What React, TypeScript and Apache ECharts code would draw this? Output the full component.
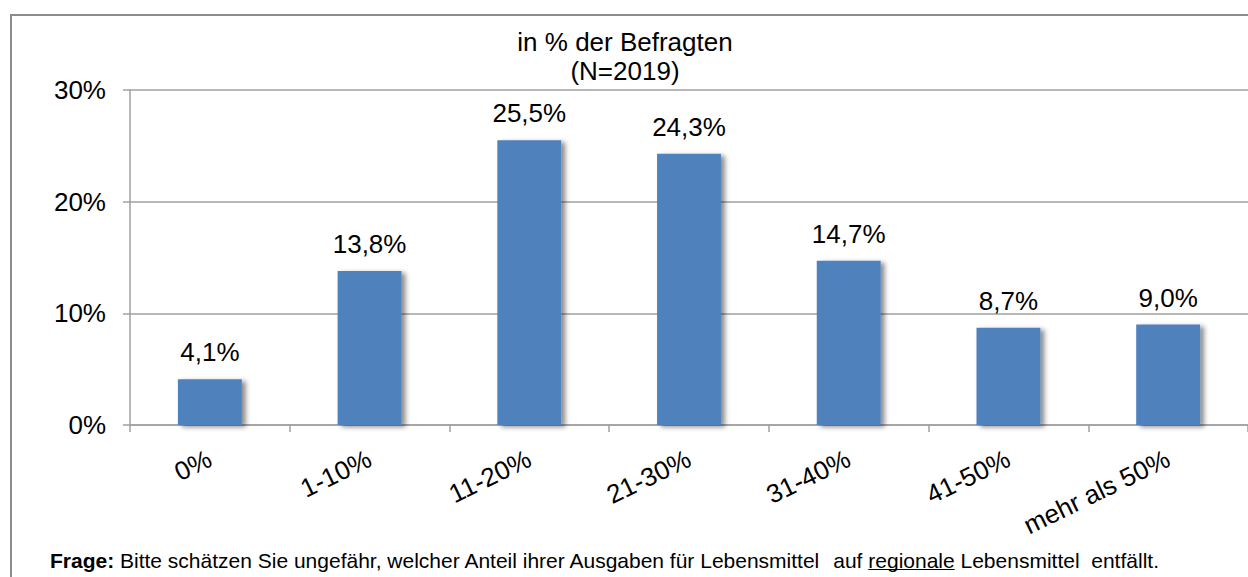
import React, { useEffect, useRef } from "react";
import * as echarts from "echarts";

const categories = ["0%", "1-10%", "11-20%", "21-30%", "31-40%", "41-50%", "mehr als 50%"];
const values = [4.1, 13.8, 25.5, 24.3, 14.7, 8.7, 9.0];
const yMin = 0;
const yMax = 30;
const yStep = 10;

const titleLines = ["in % der Befragten", "(N=2019)"];
const footerBold = "Frage:";
const footerPieces = [
  { text: "Bitte schätzen Sie ungefähr, welcher Anteil ihrer Ausgaben für Lebensmittel", underline: false, gapAfter: 2 },
  { text: "auf", underline: false, gapAfter: 1 },
  { text: "regionale", underline: true, gapAfter: 1 },
  { text: "Lebensmittel", underline: false, gapAfter: 2 },
  { text: "entfällt.", underline: false, gapAfter: 0 },
];

const FONT = '"Liberation Sans", Arial, sans-serif';

export default function App() {
  const ref = useRef<HTMLDivElement>(null);

  useEffect(() => {
    if (!ref.current) return;
    const chart = echarts.init(ref.current, null, { renderer: "svg" });

    const canvas = document.createElement("canvas");
    const ctx = canvas.getContext("2d")!;
    const footSize = 21;
    const footY = 560;
    const measure = (t: string, bold: boolean) => {
      ctx.font = `${bold ? "bold " : ""}${footSize}px ${FONT}`;
      return ctx.measureText(t).width;
    };
    const spaceW = measure(" ", false);

    const graphics: any[] = [
      {
        type: "rect",
        silent: true,
        z: -10,
        shape: { x: 11, y: 15, width: 1400, height: 700 },
        style: { fill: "none", stroke: "#8c8c8c", lineWidth: 2 },
      },
    ];
    let x = 50;
    graphics.push({
      type: "text",
      x,
      y: footY,
      style: {
        text: footerBold,
        font: `bold ${footSize}px ${FONT}`,
        fill: "#000",
        verticalAlign: "middle",
      },
    });
    x += measure(footerBold, true) + spaceW;
    footerPieces.forEach((p) => {
      const w = measure(p.text, false);
      graphics.push({
        type: "text",
        x,
        y: footY,
        style: {
          text: p.text,
          font: `${footSize}px ${FONT}`,
          fill: "#000",
          verticalAlign: "middle",
        },
      });
      if (p.underline) {
        graphics.push({
          type: "line",
          shape: { x1: x, y1: footY + 9.5, x2: x + w, y2: footY + 9.5 },
          style: { stroke: "#000", lineWidth: 1.2 },
        });
      }
      x += w + spaceW * p.gapAfter;
    });

    const option: any = {
      animation: false,
      backgroundColor: "#fff",
      title: {
        text: titleLines.join("\n"),
        left: 620,
        top: 22,
        textAlign: "center",
        textStyle: {
          fontFamily: FONT,
          fontSize: 26,
          fontWeight: "normal",
          color: "#000",
          lineHeight: 29,
        },
      },
      grid: { left: 130, right: 0, top: 90, bottom: 152, containLabel: false },
      xAxis: {
        type: "category",
        data: categories,
        boundaryGap: true,
        axisLine: { show: true, lineStyle: { color: "#a0a0a0", width: 1.5 } },
        axisTick: { show: true, length: 7, alignWithLabel: false, lineStyle: { color: "#a0a0a0", width: 1.5 } },
        axisLabel: {
          rotate: 26,
          margin: 32,
          interval: 0,
          fontFamily: FONT,
          fontSize: 26,
          color: "#000",
        },
      },
      yAxis: {
        type: "value",
        min: yMin,
        max: yMax,
        interval: yStep,
        axisLine: { show: true, lineStyle: { color: "#a0a0a0", width: 1.5 } },
        axisTick: { show: true, length: 7, lineStyle: { color: "#a0a0a0", width: 1.5 } },
        splitLine: { show: true, lineStyle: { color: "#a0a0a0", width: 1.5 } },
        axisLabel: {
          formatter: "{value}%",
          margin: 24,
          fontFamily: FONT,
          fontSize: 26,
          color: "#000",
        },
      },
      series: [
        {
          type: "bar",
          data: values,
          barWidth: "40%",
          itemStyle: {
            color: "#4F81BD",
            shadowColor: "rgba(0,0,0,0.45)",
            shadowBlur: 5,
            shadowOffsetX: 4,
            shadowOffsetY: 2,
          },
          label: {
            show: true,
            position: "top",
            distance: 14,
            fontFamily: FONT,
            fontSize: 26,
            color: "#000",
            formatter: (p: any) => p.value.toFixed(1).replace(".", ",") + "%",
          },
        },
      ],
      graphic: graphics,
    };

    chart.setOption(option);
    return () => chart.dispose();
  }, []);

  return (
    <div
      ref={ref}
      style={{ position: "absolute", left: 0, top: 0, width: 1248, height: 577 }}
    />
  );
}
